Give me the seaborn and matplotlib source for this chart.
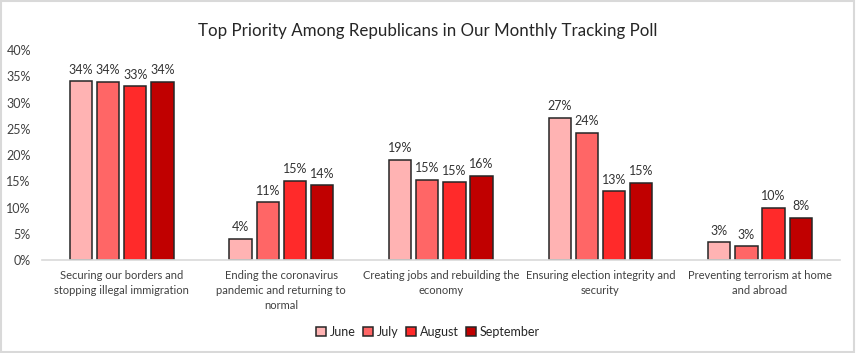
import pandas as pd
import matplotlib.pyplot as plt
import seaborn as sns

# values (percent)
categories = [
    'Securing our borders and\nstopping illegal immigration',
    'Ending the coronavirus\npandemic and returning to\nnormal',
    'Creating jobs and rebuilding the\neconomy',
    'Ensuring election integrity and\nsecurity',
    'Preventing terrorism at home\nand abroad',
]
months = ['June', 'July', 'August', 'September']
june = [34.1, 4.0, 19.1, 27.1, 3.4]
july = [34.0, 11.0, 15.3, 24.2, 2.6]
august = [33.1, 15.1, 14.8, 13.1, 10.0]
september = [34.0, 14.2, 16.0, 14.7, 8.0]
colors = ['#FFB3B3', '#FF6666', '#FF2A2A', '#C00000']

rows = []
for m, vals in zip(months, [june, july, august, september]):
    for c, v in zip(categories, vals):
        rows.append({'category': c, 'month': m, 'value': v})
df = pd.DataFrame(rows)

sns.set_style('white')
plt.rcParams['font.family'] = ['Lato', 'DejaVu Sans']

fig = plt.figure(figsize=(8.56, 3.53), dpi=100)
ax = fig.add_axes([0.049, 0.2635, 0.932, 0.5945])

sns.barplot(data=df, x='category', y='value', hue='month', order=categories,
            hue_order=months, palette=colors, saturation=1, width=0.68, gap=0.18,
            edgecolor='#262626', linewidth=1.1, ax=ax)

for cont in ax.containers:
    ax.bar_label(cont, fmt='%.0f%%', padding=4, fontsize=9, color='#333333')

ax.set_ylim(0, 40)
ax.set_xlim(-0.5, 4.5)
ax.set_yticks(range(0, 41, 5))
ax.set_yticklabels([f'{t}%' for t in range(0, 41, 5)], fontsize=9, color='#404040')
ax.tick_params(axis='x', labelsize=8, pad=7, colors='#404040', length=0)
ax.tick_params(axis='y', length=0, pad=8)
for lbl in ax.get_xticklabels():
    lbl.set_linespacing(1.45)
ax.set_xlabel('')
ax.set_ylabel('')
for s in ['top', 'right', 'left']:
    ax.spines[s].set_visible(False)
ax.spines['bottom'].set_color('#D9D9D9')
ax.spines['bottom'].set_linewidth(1.2)

handles, labels = ax.get_legend_handles_labels()
ax.get_legend().remove()
fig.legend(handles, labels, loc='center', bbox_to_anchor=(0.5, 0.06), ncol=4,
           frameon=False, fontsize=9, handlelength=0.8, handleheight=0.8,
           handletextpad=0.3, columnspacing=0.6)

fig.suptitle('Top Priority Among Republicans in Our Monthly Tracking Poll',
             y=0.935, fontsize=12.2, color='#262626')

fig.add_artist(plt.Rectangle((0.001, 0.002), 0.997, 0.995, transform=fig.transFigure,
                             fill=False, edgecolor='#D9D9D9', linewidth=1.5))

fig.savefig('out.png', dpi=100)
